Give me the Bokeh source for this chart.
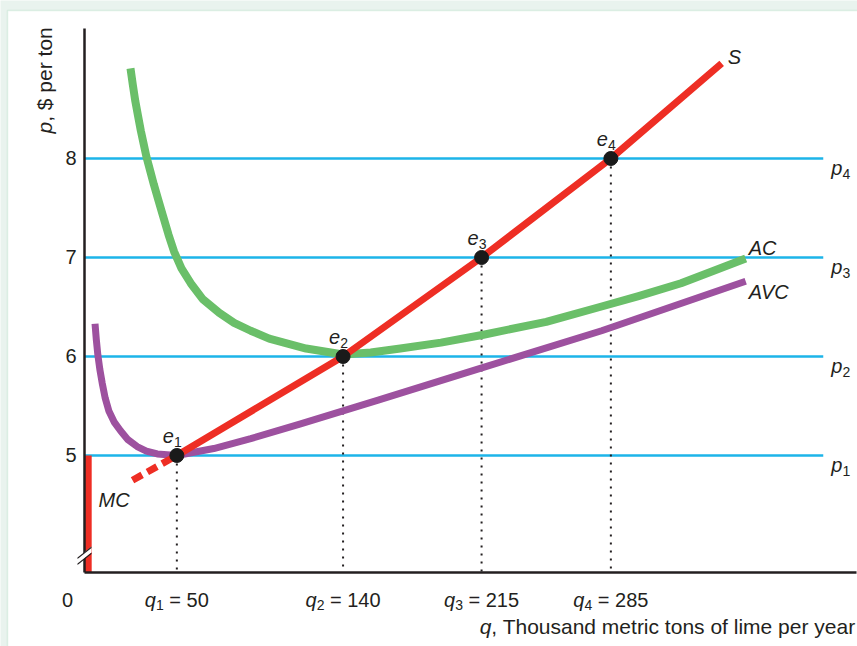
import math
from bokeh.plotting import figure
from bokeh.models import Range1d, Label, FixedTicker, PolyAnnotation, BoxAnnotation
from bokeh.embed import file_html
from bokeh.resources import INLINE

# ---------------- data ----------------
price_levels = [5, 6, 7, 8]
level_names = ["1", "2", "3", "4"]
eq_q = [50, 140, 215, 285]
eq_p = [5, 6, 7, 8]
x_tick_values = [50, 140, 215, 285]
y_tick_values = [5, 6, 7, 8]

supply_q = [50, 140, 215, 285, 345]
supply_p = [5.0, 6.0, 7.0, 8.0, 8.96]
mc_low_q = [26, 50]
mc_low_p = [4.75, 5.0]
shutdown_q = [2, 2]
shutdown_p = [3.818, 5.0]

ac_q = [24.9, 26.2, 27.5, 29.0, 30.5, 32.0, 33.5, 35.5, 37.5, 40.0, 42.5, 45.5, 48.5,
        52.5, 57.5, 64, 73, 81, 90, 100, 112, 120, 130, 140,
        155, 171, 193, 216, 250, 279, 300, 323, 340, 358]
ac_p = [8.91, 8.74, 8.58, 8.43, 8.28, 8.15, 8.02, 7.88, 7.74, 7.58, 7.42, 7.23, 7.06,
        6.89, 6.74, 6.58, 6.44, 6.34, 6.26, 6.18, 6.12, 6.08, 6.05, 6.02,
        6.04, 6.08, 6.14, 6.22, 6.35, 6.50, 6.61, 6.74, 6.86, 6.99]

avc_q = [5.7, 6.4, 7.2, 8.3, 9.6, 11.2, 13.2, 16, 19.5, 23.5, 28.5, 33.5, 39.4, 50,
         70, 90, 117, 159, 216, 280, 358]
avc_p = [6.33, 6.17, 6.02, 5.87, 5.73, 5.58, 5.45, 5.34, 5.25, 5.16, 5.09, 5.045, 5.015, 5.0,
         5.07, 5.17, 5.32, 5.56, 5.89, 6.26, 6.76]

price_line_end_q = 400

# axis extents (q from 0, broken p axis from its floor)
AX_Q0, AX_Q1 = 0, 418
AX_P0, AX_P1 = 3.818, 9.313

# ---------------- style ----------------
FONT = "Liberation Sans"
INK = "#231f20"
RED = "#ee2e24"
GREEN = "#6abf69"
PURPLE = "#9d519f"
BLUE = "#1db4e9"
DOT = "#1a1a1a"
PALE = "#e9f3ee"
EDGE = "#a2d4b6"

W_PX, H_PX = 857, 646
AX_L, AX_R, AX_T, AX_B = 84, 856, 28, 572   # pixel positions of the axes
SX = (AX_R - AX_L) / (AX_Q1 - AX_Q0)
SY = (AX_B - AX_T) / (AX_P1 - AX_P0)
x_range = Range1d(AX_Q0 - AX_L / SX, AX_Q1 + (W_PX - AX_R) / SX)
y_range = Range1d(AX_P0 - (H_PX - AX_B) / SY, AX_P1 + AX_T / SY)


def qx(px):
    return AX_Q0 + (px - AX_L) / SX


def py(pyy):
    return AX_P1 - (pyy - AX_T) / SY


p = figure(width=W_PX, height=H_PX, x_range=x_range, y_range=y_range,
           output_backend="svg", toolbar_location=None,
           min_border=0, min_border_left=0, min_border_right=0,
           min_border_top=0, min_border_bottom=0)
p.grid.visible = False
p.outline_line_color = None
p.background_fill_color = PALE
p.border_fill_color = PALE

panel = BoxAnnotation(left=qx(7), top=py(10), right=qx(W_PX + 20), bottom=py(H_PX + 20),
                      fill_color="white", fill_alpha=1, line_color=EDGE, line_width=1.5,
                      level="underlay")
p.add_layout(panel)

for ax in (p.xaxis[0], p.yaxis[0]):
    ax.axis_line_width = 2.5
    ax.axis_line_color = INK
    ax.major_tick_line_color = None
    ax.minor_tick_line_color = None
    ax.major_tick_out = 0
    ax.major_tick_in = 0
    ax.minor_tick_out = 0
    ax.minor_tick_in = 0
p.xaxis[0].fixed_location = AX_P0
p.xaxis[0].bounds = (AX_Q0, AX_Q1)
p.xaxis[0].ticker = FixedTicker(ticks=[])
p.xaxis[0].major_label_text_font_size = "0px"
p.yaxis[0].fixed_location = AX_Q0
p.yaxis[0].bounds = (AX_P0, AX_P1)
p.yaxis[0].ticker = FixedTicker(ticks=y_tick_values)
p.yaxis[0].major_label_text_font = FONT
p.yaxis[0].major_label_text_font_size = "20px"
p.yaxis[0].major_label_text_color = INK
p.yaxis[0].major_label_standoff = 8

# price lines
p.segment(x0=[AX_Q0] * 4, y0=price_levels, x1=[price_line_end_q] * 4, y1=price_levels,
          line_color=BLUE, line_width=2.3)
# dotted drop lines
p.segment(x0=eq_q, y0=eq_p, x1=eq_q, y1=[AX_P0] * 4, line_color=INK, line_width=2,
          line_dash="2 6")
# curves
p.line(ac_q, ac_p, line_color=GREEN, line_width=8, line_join="round")
p.line(avc_q, avc_p, line_color=PURPLE, line_width=7, line_join="round")
p.line(shutdown_q, shutdown_p, line_color=RED, line_width=7)
p.line(mc_low_q, mc_low_p, line_color=RED, line_width=7, line_dash="11 6")
p.line(supply_q, supply_p, line_color=RED, line_width=7, line_join="round")
p.scatter(eq_q, eq_p, size=14, fill_color=DOT, line_color=DOT)

# ---------------- text helpers ----------------
W = {' ': 278, ',': 278, '$': 556, '=': 584, 'a': 556, 'c': 500, 'd': 556, 'e': 556,
     'f': 278, 'h': 556, 'i': 222, 'l': 222, 'm': 833, 'n': 556, 'o': 556, 'p': 556,
     'q': 556, 'r': 333, 's': 500, 't': 278, 'u': 556, 'y': 500, 'T': 611}
for d in "0123456789":
    W[d] = 556


def tw(s, size):
    return sum(W.get(c, 556) for c in s) * size / 1000.0


def lab(x, y, text, dx, dy, size=20, italic=False, align="left", angle=0.0):
    p.add_layout(Label(x=x, y=y, text=text, x_offset=dx, y_offset=dy,
                       text_font=FONT, text_font_size=f"{size}px",
                       text_font_style="italic" if italic else "normal",
                       text_color=INK, text_align=align, text_baseline="alphabetic",
                       angle=angle))


def sub_label(x, y, base, sub, rest, dx, dy, sub_dy, size=20, sub_size=14, center=False):
    # rest is drawn after one space width
    gap = tw(" ", size) if rest else 0.0
    total = tw(base, size) + tw(sub, sub_size) + gap + tw(rest, size)
    if center:
        dx = dx - total / 2.0
    lab(x, y, base, dx, dy, size=size, italic=True)
    dx2 = dx + tw(base, size)
    lab(x, y, sub, dx2, sub_dy, size=sub_size)
    if rest:
        lab(x, y, rest, dx2 + tw(sub, sub_size) + gap, dy, size=size)


# x tick labels
for i, q in enumerate(x_tick_values):
    sub_label(q, AX_P0, "q", level_names[i], f"= {q}", 0, -27, -32, center=True)
lab(AX_Q0, AX_P0, "0", -17, -27, align="center")

# axis titles
rest = ", Thousand metric tons of lime per year"
lab(AX_Q1, AX_P0, rest, -1, -54, size=21, align="right")
lab(AX_Q1, AX_P0, "q", -1 - tw(rest, 21), -54, size=21, italic=True, align="right")

lab(AX_Q0, AX_P1, "p", -40, -105, size=21, italic=True, angle=math.pi / 2)
lab(AX_Q0, AX_P1, ", $ per ton", -40, -105 + tw("p", 21), size=21, angle=math.pi / 2)

# equilibrium labels
for i in range(4):
    sub_label(eq_q[i], eq_p[i], "e", level_names[i], "", -14, 19, 13)

# price labels
for i, lv in enumerate(price_levels):
    sub_label(price_line_end_q, lv, "p", level_names[i], "", 8, -10, -16)

# curve labels
lab(supply_q[-1], supply_p[-1], "S", 6, 6, italic=True)
lab(ac_q[-1], ac_p[-1], "AC", 3, 10, italic=True)
lab(avc_q[-1], avc_p[-1], "AVC", 3, -11, italic=True)
lab(mc_low_q[0], mc_low_p[0], "MC", -34, -20, italic=True)

# axis break mark
band = [(78, 557), (91, 546), (91, 552), (78, 563)]
p.add_layout(PolyAnnotation(xs=[qx(a) for a, b in band], ys=[py(b) for a, b in band],
                            fill_color="white", fill_alpha=1, line_color=None))
for top in (557, 563):
    stroke = [(77, top), (91, top - 11), (91, top - 9.5), (77, top + 1.5)]
    p.add_layout(PolyAnnotation(xs=[qx(a) for a, b in stroke], ys=[py(b) for a, b in stroke],
                                fill_color=INK, fill_alpha=1, line_color=None))

open("out.html", "w").write(file_html(p, INLINE))
